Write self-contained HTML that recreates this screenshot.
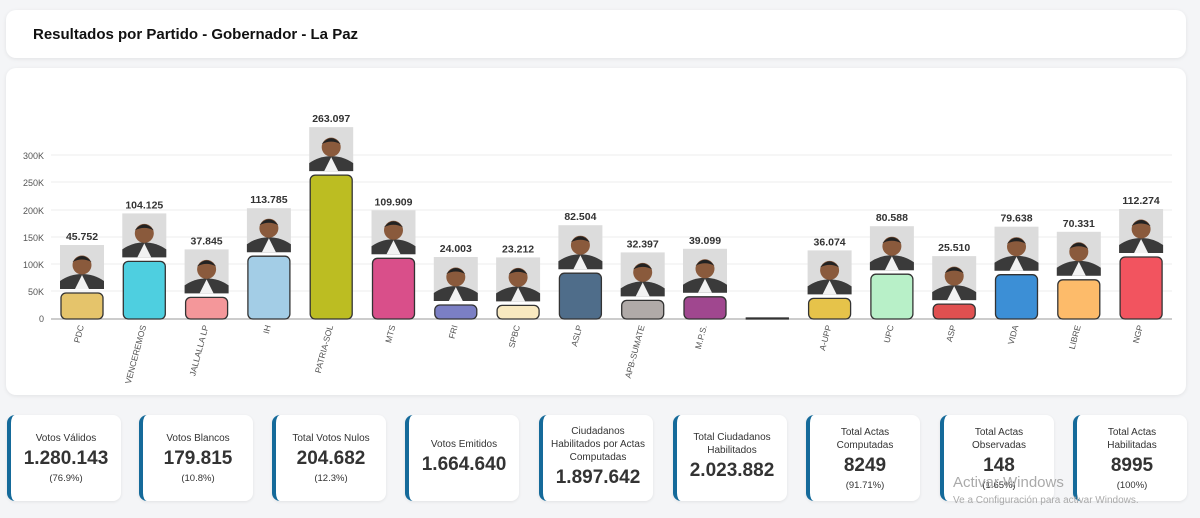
<!DOCTYPE html>
<html><head><meta charset="utf-8"><style>
body{margin:0;width:1200px;height:518px;background:#f4f5f7;font-family:"Liberation Sans",sans-serif;position:relative;overflow:hidden}
.hdr{position:absolute;left:6px;top:10px;width:1180px;height:48px;background:#fff;border-radius:10px;box-shadow:0 1px 4px rgba(0,0,0,.08)}
.hdr span{position:absolute;left:27px;top:16px;font-weight:bold;font-size:15px;color:#111}
.ch{position:absolute;left:6px;top:68px;width:1180px;height:327px;background:#fff;border-radius:10px;box-shadow:0 1px 4px rgba(0,0,0,.08)}
.card{box-sizing:border-box;position:absolute;top:415px;width:114px;height:86px;background:#fff;border-radius:8px;border-left:4px solid #156a9a;box-shadow:0 1px 3px rgba(0,0,0,.08);display:flex;flex-direction:column;justify-content:center;align-items:center;text-align:center;color:#333}
.t{font-size:10px;line-height:13px;color:#333}
.v{font-size:19px;font-weight:bold;color:#333;margin:3px 0}
.p{font-size:9.5px;color:#333}
svg text{font-family:"Liberation Sans",sans-serif}
</style></head><body>
<div class="hdr"><span>Resultados por Partido - Gobernador - La Paz</span></div>
<div class="ch"></div>
<svg width="1200" height="518" style="position:absolute;left:0;top:0">
<defs>
<g id="ph"><rect x="-22" y="0" width="44" height="44" fill="#dcdcdc"/><path d="M-22 44 L-22 36 Q-12 29 0 29 Q12 29 22 36 L22 44Z" fill="#3a3a3a"/><path d="M-7 44 L0 30 L7 44Z" fill="#f2f2f2"/><circle cx="0" cy="20" r="9.5" fill="#8a5a3c"/><path d="M-9.5 17 Q0 5 9.5 17 Q0 12 -9.5 17Z" fill="#222"/></g>
</defs>
<g stroke="#eee" stroke-width="1">
<line x1="51" y1="291" x2="1172" y2="291"/><line x1="51" y1="264" x2="1172" y2="264"/><line x1="51" y1="237" x2="1172" y2="237"/><line x1="51" y1="210" x2="1172" y2="210"/><line x1="51" y1="182" x2="1172" y2="182"/><line x1="51" y1="155" x2="1172" y2="155"/>
</g>
<line x1="51" y1="319" x2="1172" y2="319" stroke="#999"/>
<g font-size="9" fill="#555" text-anchor="end">
<text x="44" y="322">0</text><text x="44" y="295">50K</text><text x="44" y="268">100K</text><text x="44" y="241">150K</text><text x="44" y="214">200K</text><text x="44" y="186">250K</text><text x="44" y="159">300K</text>
</g>
<g stroke="#333" stroke-width="1.3">
<rect x="61" y="293" width="42" height="26" rx="5" fill="#e5c46b"/>
<rect x="123.3" y="261.4" width="42" height="57.6" rx="5" fill="#4ecfe0"/>
<rect x="185.6" y="297.4" width="42" height="21.6" rx="5" fill="#f4979a"/>
<rect x="247.9" y="256.2" width="42" height="62.8" rx="5" fill="#a3cde6"/>
<rect x="310.2" y="175.1" width="42" height="143.9" rx="5" fill="#bcbd22"/>
<rect x="372.5" y="258.3" width="42" height="60.7" rx="5" fill="#d94f8a"/>
<rect x="434.8" y="305" width="42" height="14" rx="5" fill="#7b7fc4"/>
<rect x="497.1" y="305.4" width="42" height="13.6" rx="5" fill="#f8e9c0"/>
<rect x="559.4" y="273.2" width="42" height="45.8" rx="5" fill="#4f6d8a"/>
<rect x="621.7" y="300.4" width="42" height="18.6" rx="5" fill="#b0aaa8"/>
<rect x="684" y="296.8" width="42" height="22.2" rx="5" fill="#a0478f"/>
<rect x="746.3" y="318" width="42" height="1" fill="#555"/>
<rect x="808.6" y="298.4" width="42" height="20.6" rx="5" fill="#e6c34a"/>
<rect x="870.9" y="274.2" width="42" height="44.8" rx="5" fill="#b8f0c8"/>
<rect x="933.2" y="304.1" width="42" height="14.9" rx="5" fill="#e05050"/>
<rect x="995.5" y="274.7" width="42" height="44.3" rx="5" fill="#3c8fd6"/>
<rect x="1057.8" y="279.8" width="42" height="39.2" rx="5" fill="#fdbb6a"/>
<rect x="1120.1" y="257" width="42" height="62" rx="5" fill="#f2545f"/>
</g>
<use href="#ph" x="82" y="245"/><use href="#ph" x="144.3" y="213.4"/><use href="#ph" x="206.6" y="249.4"/><use href="#ph" x="268.9" y="208.2"/><use href="#ph" x="331.2" y="127.1"/><use href="#ph" x="393.5" y="210.3"/><use href="#ph" x="455.8" y="257"/><use href="#ph" x="518.1" y="257.4"/><use href="#ph" x="580.4" y="225.2"/><use href="#ph" x="642.7" y="252.4"/><use href="#ph" x="705" y="248.8"/><use href="#ph" x="829.6" y="250.4"/><use href="#ph" x="891.9" y="226.2"/><use href="#ph" x="954.2" y="256.1"/><use href="#ph" x="1016.5" y="226.7"/><use href="#ph" x="1078.8" y="231.8"/><use href="#ph" x="1141.1" y="209"/>
<g font-size="10.5" font-weight="bold" fill="#333" text-anchor="middle">
<text x="82" y="240">45.752</text><text x="144.3" y="208.4">104.125</text><text x="206.6" y="244.4">37.845</text><text x="268.9" y="203.2">113.785</text><text x="331.2" y="122.1">263.097</text><text x="393.5" y="205.3">109.909</text><text x="455.8" y="252">24.003</text><text x="518.1" y="252.4">23.212</text><text x="580.4" y="220.2">82.504</text><text x="642.7" y="247.4">32.397</text><text x="705" y="243.8">39.099</text><text x="829.6" y="245.4">36.074</text><text x="891.9" y="221.2">80.588</text><text x="954.2" y="251.1">25.510</text><text x="1016.5" y="221.7">79.638</text><text x="1078.8" y="226.8">70.331</text><text x="1141.1" y="204">112.274</text>
</g>
<g font-size="8.5" fill="#555" text-anchor="end">
<text transform="translate(84,326) rotate(-75)">PDC</text>
<text transform="translate(146.3,326) rotate(-75)">VENCEREMOS</text>
<text transform="translate(208.6,326) rotate(-75)">JALLALLA LP</text>
<text transform="translate(270.9,326) rotate(-75)">IH</text>
<text transform="translate(333.2,326) rotate(-75)">PATRIA-SOL</text>
<text transform="translate(395.5,326) rotate(-75)">MTS</text>
<text transform="translate(457.8,326) rotate(-75)">FRI</text>
<text transform="translate(520.1,326) rotate(-75)">SPBC</text>
<text transform="translate(582.4,326) rotate(-75)">ASLP</text>
<text transform="translate(644.7,326) rotate(-75)">APB-SUMATE</text>
<text transform="translate(707,326) rotate(-75)">M.P.S.</text>
<text transform="translate(831.6,326) rotate(-75)">A-UPP</text>
<text transform="translate(893.9,326) rotate(-75)">UPC</text>
<text transform="translate(956.2,326) rotate(-75)">ASP</text>
<text transform="translate(1018.5,326) rotate(-75)">VIDA</text>
<text transform="translate(1080.8,326) rotate(-75)">LIBRE</text>
<text transform="translate(1143.1,326) rotate(-75)">NGP</text>
</g>
</svg>
<div class="card" style="left:7px"><div class="t">Votos Válidos</div><div class="v">1.280.143</div><div class="p">(76.9%)</div></div>
<div class="card" style="left:139px"><div class="t">Votos Blancos</div><div class="v">179.815</div><div class="p">(10.8%)</div></div>
<div class="card" style="left:272px"><div class="t">Total Votos Nulos</div><div class="v">204.682</div><div class="p">(12.3%)</div></div>
<div class="card" style="left:405px"><div class="t">Votos Emitidos</div><div class="v">1.664.640</div></div>
<div class="card" style="left:539px"><div class="t">Ciudadanos<br>Habilitados por Actas<br>Computadas</div><div class="v">1.897.642</div></div>
<div class="card" style="left:673px"><div class="t">Total Ciudadanos<br>Habilitados</div><div class="v">2.023.882</div></div>
<div class="card" style="left:806px"><div class="t">Total Actas<br>Computadas</div><div class="v">8249</div><div class="p">(91.71%)</div></div>
<div class="card" style="left:940px"><div class="t">Total Actas<br>Observadas</div><div class="v">148</div><div class="p">(1.65%)</div></div>
<div class="card" style="left:1073px"><div class="t">Total Actas<br>Habilitadas</div><div class="v">8995</div><div class="p">(100%)</div></div>
<div style="position:absolute;left:953px;top:474px;font-size:15px;color:#aaa">Activar Windows</div>
<div style="position:absolute;left:953px;top:495px;font-size:10px;color:#aaa">Ve a Configuración para activar Windows.</div>
</body></html>
